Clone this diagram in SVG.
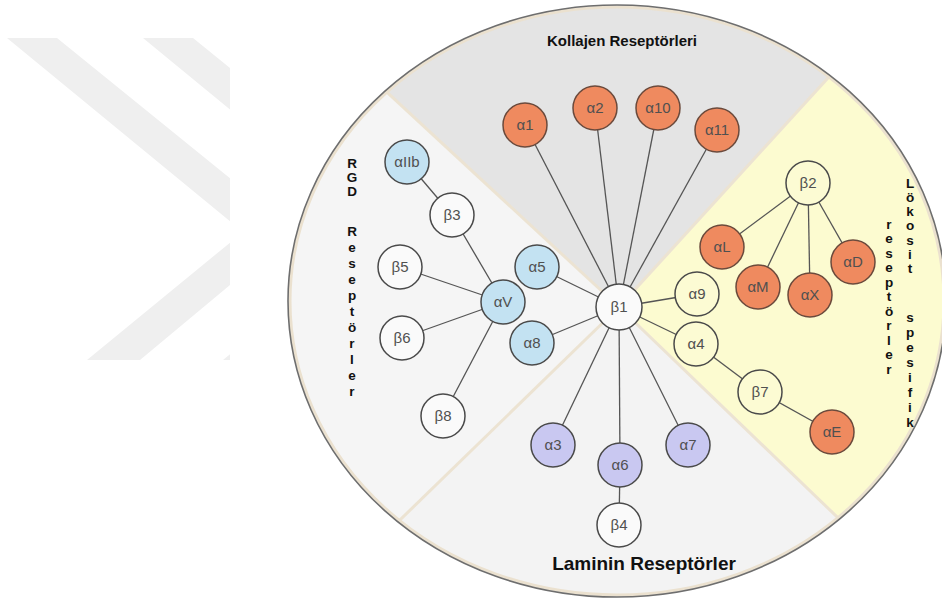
<svg xmlns="http://www.w3.org/2000/svg" width="942" height="603" viewBox="0 0 942 603">
<style>
.ln{stroke:#555;stroke-width:1.3;fill:none}
.nd{stroke:#4a4a4a;stroke-width:1.5}
.or{fill:#ef8a5f;stroke:#6b4a3c}
.bl{fill:#c3e2f2}
.pu{fill:#c9c8f1}
.wh{fill:#fafafa}
.wy{fill:#fcfbd3}
.lb{font-family:"Liberation Sans",Arial,sans-serif;font-size:15px;fill:#505050;text-anchor:middle}
.vt{font-family:"Liberation Sans",Arial,sans-serif;font-size:13.5px;font-weight:bold;fill:#111;text-anchor:middle}
.tt{font-family:"Liberation Sans",Arial,sans-serif;font-weight:bold;fill:#111;text-anchor:middle}
.sep{stroke:#ece3d2;stroke-width:3;fill:none}
</style>
<defs>
<clipPath id="wm"><rect x="0" y="38" width="230" height="322"/></clipPath>
<clipPath id="disc"><ellipse cx="617" cy="301" rx="329" ry="296"/></clipPath>
</defs>
<rect width="942" height="603" fill="#ffffff"/>
<g id="watermark" clip-path="url(#wm)" fill="#efefef">
<polygon points="7,38 57,38 295,231 140,360 87,360 243,232"/>
<polygon points="143,38 193,38 431,231 276,360 223,360 379,232"/>
</g>
<g id="background" clip-path="url(#disc)">
<polygon points="619,307 161,-117 1015,-127" fill="#e4e4e4"/>
<polygon points="619,307 1015,-127 1200,300 1047,719" fill="#fcfbd0"/>
<polygon points="619,307 1047,719 187,727" fill="#f3f3f3"/>
<polygon points="619,307 187,727 0,300 161,-117" fill="#f5f5f5"/>
<line class="sep" x1="619" y1="307" x2="161" y2="-117"/>
<line class="sep" x1="619" y1="307" x2="1015" y2="-127"/>
<line class="sep" x1="619" y1="307" x2="1047" y2="719"/>
<line class="sep" x1="619" y1="307" x2="187" y2="727"/>
<ellipse cx="617" cy="301" rx="327" ry="294" fill="none" stroke="#ebe1cf" stroke-width="3"/>
</g>
<ellipse id="outline" cx="617" cy="301" rx="329" ry="296" fill="none" stroke="#6e6e6e" stroke-width="1.6"/>
<g id="titles">
<text class="tt" x="622" y="46" font-size="15">Kollajen Reseptörleri</text>
<text class="tt" x="644" y="570" font-size="19">Laminin Reseptörler</text>
<g id="rgd-title">
<text class="vt" x="352" y="168">R</text>
<text class="vt" x="352" y="182">G</text>
<text class="vt" x="352" y="196">D</text>
<text class="vt" x="352" y="236">R</text>
<text class="vt" x="352" y="252">e</text>
<text class="vt" x="352" y="268">s</text>
<text class="vt" x="352" y="284">e</text>
<text class="vt" x="352" y="300">p</text>
<text class="vt" x="352" y="316">t</text>
<text class="vt" x="352" y="332">ö</text>
<text class="vt" x="352" y="348">r</text>
<text class="vt" x="352" y="364">l</text>
<text class="vt" x="352" y="380">e</text>
<text class="vt" x="352" y="396">r</text>
</g>
<g id="lokosit-title">
<text class="vt" x="910" y="188">L</text>
<text class="vt" x="910" y="202">ö</text>
<text class="vt" x="910" y="216">k</text>
<text class="vt" x="910" y="230">o</text>
<text class="vt" x="910" y="245">s</text>
<text class="vt" x="910" y="259">i</text>
<text class="vt" x="910" y="273">t</text>
<text class="vt" x="910" y="322">s</text>
<text class="vt" x="910" y="337">p</text>
<text class="vt" x="910" y="352">e</text>
<text class="vt" x="910" y="367">s</text>
<text class="vt" x="910" y="382">i</text>
<text class="vt" x="910" y="397">f</text>
<text class="vt" x="910" y="412">i</text>
<text class="vt" x="910" y="427">k</text>
<text class="vt" x="889" y="229">r</text>
<text class="vt" x="889" y="243">e</text>
<text class="vt" x="889" y="258">s</text>
<text class="vt" x="889" y="272">e</text>
<text class="vt" x="889" y="287">p</text>
<text class="vt" x="889" y="301">t</text>
<text class="vt" x="889" y="316">ö</text>
<text class="vt" x="889" y="330">r</text>
<text class="vt" x="889" y="345">l</text>
<text class="vt" x="889" y="359">e</text>
<text class="vt" x="889" y="374">r</text>
</g>
</g>
<g id="connectors">
<line class="ln" x1="619" y1="307" x2="525" y2="125"/>
<line class="ln" x1="619" y1="307" x2="595" y2="108"/>
<line class="ln" x1="619" y1="307" x2="658" y2="108"/>
<line class="ln" x1="619" y1="307" x2="717" y2="130"/>
<line class="ln" x1="619" y1="307" x2="537" y2="267"/>
<line class="ln" x1="619" y1="307" x2="532" y2="343"/>
<line class="ln" x1="619" y1="307" x2="697" y2="294"/>
<line class="ln" x1="619" y1="307" x2="696" y2="344"/>
<line class="ln" x1="619" y1="307" x2="553" y2="445"/>
<line class="ln" x1="619" y1="307" x2="620" y2="465"/>
<line class="ln" x1="619" y1="307" x2="688" y2="445"/>
<line class="ln" x1="407" y1="162" x2="452" y2="215"/>
<line class="ln" x1="452" y1="215" x2="503" y2="302"/>
<line class="ln" x1="400" y1="267" x2="503" y2="302"/>
<line class="ln" x1="402" y1="338" x2="503" y2="302"/>
<line class="ln" x1="443" y1="416" x2="503" y2="302"/>
<line class="ln" x1="808" y1="183" x2="722" y2="247"/>
<line class="ln" x1="808" y1="183" x2="758" y2="287"/>
<line class="ln" x1="808" y1="183" x2="810" y2="295"/>
<line class="ln" x1="808" y1="183" x2="853" y2="262"/>
<line class="ln" x1="696" y1="344" x2="760" y2="392"/>
<line class="ln" x1="760" y1="392" x2="832" y2="432"/>
<line class="ln" x1="620" y1="465" x2="619" y2="525"/>
</g>
<g id="n-b1"><circle class="nd wh" cx="619" cy="307" r="23"/><text class="lb" x="619" y="312">β1</text></g>
<g id="n-a1"><circle class="nd or" cx="525" cy="125" r="22"/><text class="lb" x="525" y="130">α1</text></g>
<g id="n-a2"><circle class="nd or" cx="595" cy="108" r="22"/><text class="lb" x="595" y="113">α2</text></g>
<g id="n-a10"><circle class="nd or" cx="658" cy="108" r="22"/><text class="lb" x="658" y="113">α10</text></g>
<g id="n-a11"><circle class="nd or" cx="717" cy="130" r="22"/><text class="lb" x="717" y="135">α11</text></g>
<g id="n-aIIb"><circle class="nd bl" cx="407" cy="162" r="22"/><text class="lb" x="407" y="167">αIIb</text></g>
<g id="n-b3"><circle class="nd wh" cx="452" cy="215" r="22"/><text class="lb" x="452" y="220">β3</text></g>
<g id="n-b5"><circle class="nd wh" cx="400" cy="267" r="22"/><text class="lb" x="400" y="272">β5</text></g>
<g id="n-a5"><circle class="nd bl" cx="537" cy="267" r="22"/><text class="lb" x="537" y="272">α5</text></g>
<g id="n-aV"><circle class="nd bl" cx="503" cy="302" r="22"/><text class="lb" x="503" y="307">αV</text></g>
<g id="n-b6"><circle class="nd wh" cx="402" cy="338" r="22"/><text class="lb" x="402" y="343">β6</text></g>
<g id="n-a8"><circle class="nd bl" cx="532" cy="343" r="22"/><text class="lb" x="532" y="348">α8</text></g>
<g id="n-b8"><circle class="nd wh" cx="443" cy="416" r="22"/><text class="lb" x="443" y="421">β8</text></g>
<g id="n-b2"><circle class="nd wy" cx="808" cy="183" r="22"/><text class="lb" x="808" y="188">β2</text></g>
<g id="n-aL"><circle class="nd or" cx="722" cy="247" r="22"/><text class="lb" x="722" y="252">αL</text></g>
<g id="n-aM"><circle class="nd or" cx="758" cy="287" r="22"/><text class="lb" x="758" y="292">αM</text></g>
<g id="n-aX"><circle class="nd or" cx="810" cy="295" r="22"/><text class="lb" x="810" y="300">αX</text></g>
<g id="n-aD"><circle class="nd or" cx="853" cy="262" r="22"/><text class="lb" x="853" y="267">αD</text></g>
<g id="n-a9"><circle class="nd wy" cx="697" cy="294" r="22"/><text class="lb" x="697" y="299">α9</text></g>
<g id="n-a4"><circle class="nd wy" cx="696" cy="344" r="22"/><text class="lb" x="696" y="349">α4</text></g>
<g id="n-b7"><circle class="nd wy" cx="760" cy="392" r="22"/><text class="lb" x="760" y="397">β7</text></g>
<g id="n-aE"><circle class="nd or" cx="832" cy="432" r="22"/><text class="lb" x="832" y="437">αE</text></g>
<g id="n-a3"><circle class="nd pu" cx="553" cy="445" r="22"/><text class="lb" x="553" y="450">α3</text></g>
<g id="n-a6"><circle class="nd pu" cx="620" cy="465" r="22"/><text class="lb" x="620" y="470">α6</text></g>
<g id="n-a7"><circle class="nd pu" cx="688" cy="445" r="22"/><text class="lb" x="688" y="450">α7</text></g>
<g id="n-b4"><circle class="nd wh" cx="619" cy="525" r="22"/><text class="lb" x="619" y="530">β4</text></g>
</svg>
